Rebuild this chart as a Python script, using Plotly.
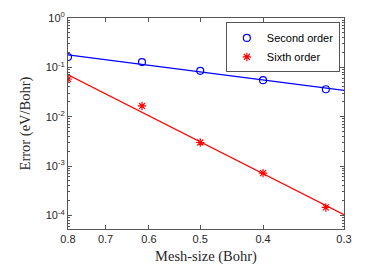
import numpy as np
import plotly.graph_objects as go

mesh = [0.8, 0.615, 0.5, 0.4, 0.32]
err_second = [0.162, 0.128, 0.085, 0.055, 0.036]
err_sixth = [0.058, 0.0165, 0.003, 0.00072, 0.000145]
x_ticks = [0.8, 0.7, 0.6, 0.5, 0.4, 0.3]
y_ticks = [1e-4, 1e-3, 1e-2, 1e-1, 1e0]
y_ticktext = ["10<sup>-4</sup>", "10<sup>-3</sup>", "10<sup>-2</sup>", "10<sup>-1</sup>", "10<sup>0</sup>"]

xfit = np.array([0.8, 0.3])
lx = np.log10(mesh)

def fit(vals):
    p = np.polyfit(lx, np.log10(vals), 1)
    return 10 ** np.polyval(p, np.log10(xfit))

fig = go.Figure()
fig.add_trace(go.Scatter(x=xfit, y=fit(err_second), mode="lines",
                         line=dict(color="#0000ff", width=1.2), showlegend=False))
fig.add_trace(go.Scatter(x=xfit, y=fit(err_sixth), mode="lines",
                         line=dict(color="#ff0000", width=1.2), showlegend=False))
fig.add_trace(go.Scatter(x=mesh, y=err_second, mode="markers", name="Second order",
                         marker=dict(symbol="circle-open", size=7, color="#0000ff",
                                     line=dict(width=1.2, color="#0000ff"))))
fig.add_trace(go.Scatter(x=mesh, y=err_sixth, mode="markers", name="Sixth order",
                         marker=dict(symbol="asterisk-open", size=7, color="#ff0000",
                                     line=dict(width=1.2, color="#ff0000"))))

minor_y = [m * 10.0 ** e for e in range(-5, 0) for m in range(2, 10)]
minor_y = [v for v in minor_y if 5e-5 <= v <= 1]

axcol = "#555555"
fig.update_layout(
    width=374, height=280,
    margin=dict(l=68, r=30, t=18, b=51, autoexpand=False),
    paper_bgcolor="white", plot_bgcolor="white",
    font=dict(family="Liberation Sans, Arial", size=11, color="#262626"),
    showlegend=True,
    legend=dict(x=0.985, y=0.979, xanchor="right", yanchor="top",
                bgcolor="white", bordercolor=axcol, borderwidth=1,
                font=dict(family="Liberation Sans, Arial", size=11, color="#000000"),
                tracegroupgap=0, itemwidth=30),
    xaxis=dict(type="log", range=[np.log10(0.8), np.log10(0.3)], automargin=False,
               tickvals=x_ticks, ticktext=[str(v) for v in x_ticks],
               ticks="inside", ticklen=4, tickcolor=axcol, mirror="ticks",
               showline=True, linecolor=axcol, linewidth=1, showgrid=False, zeroline=False,
               title=dict(text="Mesh-size (Bohr)", standoff=6,
                          font=dict(family="Liberation Serif, DejaVu Serif", size=14.5, color="#262626"))),
    yaxis=dict(type="log", range=[np.log10(5.3e-5), 0], automargin=False,
               tickvals=y_ticks, ticktext=y_ticktext,
               ticks="inside", ticklen=4, tickcolor=axcol, mirror="ticks",
               showline=True, linecolor=axcol, linewidth=1, showgrid=False, zeroline=False,
               minor=dict(tickvals=minor_y, ticks="inside", ticklen=2, tickcolor=axcol, showgrid=False),
               title=dict(text="Error (eV/Bohr)", standoff=11,
                          font=dict(family="Liberation Serif, DejaVu Serif", size=14.5, color="#262626"))),
)
fig.write_html("out.html", config={"displayModeBar": False},
               post_script="document.body.style.margin='0';")
